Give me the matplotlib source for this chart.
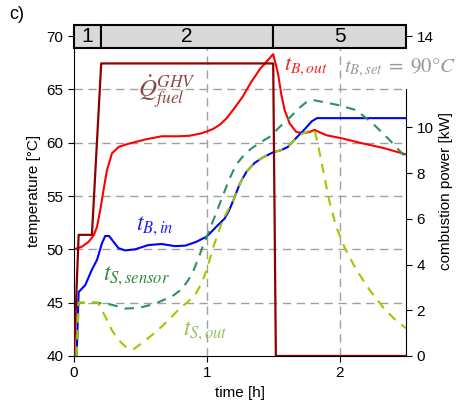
import matplotlib
matplotlib.use('Agg')
import matplotlib.pyplot as plt
from matplotlib.patches import Rectangle

plt.rcParams['font.family'] = ['Liberation Sans', 'DejaVu Sans']
plt.rcParams['mathtext.fontset'] = 'stix'

# combustion power [kW]
t_power = [0.0, 0.035, 0.135, 0.205, 1.5, 1.52, 2.5]
power = [0.0, 5.3, 5.3, 12.8, 12.8, 0.0, 0.0]

# boiler outlet temperature
t_bout = [0.0, 0.06, 0.11, 0.148, 0.173, 0.198, 0.223, 0.248, 0.286, 0.336, 0.41, 0.536,
          0.66, 0.79, 0.87, 0.95, 1.0, 1.05, 1.10, 1.15, 1.20, 1.27, 1.33, 1.40, 1.45,
          1.50, 1.536, 1.56, 1.586, 1.624, 1.674, 1.724, 1.774, 1.81, 1.90, 2.02, 2.15,
          2.33, 2.5]
T_bout = [50.0, 50.25, 50.7, 51.3, 52.1, 53.7, 55.6, 57.4, 59.0, 59.6, 59.9, 60.3,
          60.6, 60.6, 60.65, 60.85, 61.05, 61.3, 61.7, 62.3, 63.1, 64.3, 65.6, 66.9, 67.6,
          68.3, 66.5, 64.6, 63.05, 61.8, 61.0, 60.9, 61.0, 61.2, 60.7, 60.4, 60.0,
          59.5, 58.9]

# boiler inlet temperature
t_bin = [0.02, 0.035, 0.085, 0.135, 0.173, 0.21, 0.235, 0.265, 0.298, 0.336, 0.386, 0.46,
         0.56, 0.66, 0.76, 0.84, 0.92, 1.0, 1.07, 1.135, 1.17, 1.2, 1.25, 1.30, 1.36,
         1.42, 1.50, 1.56, 1.61, 1.67, 1.74, 1.79, 1.83, 2.5]
T_bin = [40.0, 46.0, 46.65, 48.1, 49.0, 50.55, 51.25, 51.25, 50.7, 50.1, 49.9, 50.0,
         50.4, 50.5, 50.3, 50.35, 50.7, 51.2, 52.1, 52.9, 53.7, 54.6, 56.2, 57.3, 58.1,
         58.6, 59.1, 59.3, 59.6, 60.4, 61.3, 62.0, 62.3, 62.3]

# storage sensor temperature
t_ssens = [0.02, 0.035, 0.173, 0.286, 0.386, 0.486, 0.61, 0.74, 0.81, 0.86, 0.9, 0.97,
           1.05, 1.12, 1.17, 1.22, 1.27, 1.33, 1.40, 1.48, 1.55, 1.62, 1.70, 1.75, 1.8,
           1.9, 2.0, 2.125, 2.25, 2.376, 2.5]
T_ssens = [40.0, 45.0, 45.0, 44.8, 44.45, 44.5, 44.9, 45.6, 46.25, 47.1, 48.0, 50.25,
           52.75, 55.0, 56.6, 57.9, 58.7, 59.4, 60.0, 60.6, 61.5, 62.3, 63.3, 63.8, 64.0,
           63.75, 63.5, 63.05, 61.8, 60.25, 58.6]

# storage outlet temperature
t_sout = [0.02, 0.035, 0.18, 0.235, 0.286, 0.336, 0.398, 0.45, 0.51, 0.586, 0.66, 0.737,
          0.8, 0.86, 0.92, 0.96, 1.0, 1.05, 1.12, 1.2, 1.25, 1.30, 1.36, 1.42, 1.50, 1.56,
          1.61, 1.67, 1.72, 1.77, 1.81, 1.836, 1.86, 1.89, 1.925, 1.975, 2.04, 2.125,
          2.226, 2.325, 2.41, 2.5]
T_sout = [40.0, 45.0, 45.0, 43.7, 42.4, 41.5, 40.75, 40.65, 41.2, 41.95, 42.75, 43.7,
          44.5, 45.1, 45.9, 46.8, 48.1, 50.25, 52.75, 54.6, 56.2, 57.3, 58.1, 58.6, 59.1,
          59.3, 59.6, 60.4, 60.85, 61.1, 61.25, 59.9, 58.4, 56.5, 54.4, 52.1, 50.1, 48.1,
          46.2, 44.6, 43.5, 42.6]

# phases shown in the top band
phase_edges = [0.0, 0.2, 1.5, 2.5]
phase_labels = ['1', '2', '5']

fig = plt.figure(figsize=(4.61, 4.2), dpi=100)
ax = fig.add_axes([0.1605, 0.1524, 0.7202, 0.788])
ymax = 71.03
ax.set_xlim(0, 2.5)
ax.set_ylim(40, ymax)
ax2 = ax.twinx()
ax2.set_ylim(0, (ymax - 40) * 14 / 30)

grid_kw = dict(color='#a0a0a0', lw=1.0, dashes=(6, 4), zorder=0.5)
for y in [45, 50, 55, 60, 65]:
    ax.axhline(y, **grid_kw)
for x in [1, 2]:
    ax.axvline(x, **grid_kw)

dash = (4.5, 3.5)
ax.plot(t_bout, T_bout, color='#ff0000', lw=1.5)
ax.plot(t_bin, T_bin, color='#0000ff', lw=1.5)
ax.plot(t_ssens, T_ssens, color='#2e9060', lw=1.5, dashes=dash)
ax.plot(t_sout, T_sout, color='#99cc00', lw=1.5, dashes=dash)
ax2.plot(t_power, power, color='#8b0000', lw=1.6)

for i, lab in enumerate(phase_labels):
    x0, x1 = phase_edges[i], phase_edges[i + 1]
    ax.add_patch(Rectangle((x0, 68.87), x1 - x0, ymax - 68.87, facecolor='#d9d9d9',
                           edgecolor='black', lw=1.5, zorder=5, clip_on=False))
    ax.text((x0 + x1) / 2, 69.95, lab, ha='center', va='center', fontsize=15, zorder=6)

ax.text(0.70, 64.75, r'$\dot{Q}_{fuel}^{GHV}$', color='#8b4a4a', fontsize=18,
        ha='center', va='center')
ax.text(1.585, 67.2, r'$t_{B,out}$', color='#ff2020', fontsize=16, ha='left', va='center')
ax.text(2.035, 67.0, r'$t_{B,set}\;=\;90°C$', color='#999999', fontsize=15, ha='left',
        va='center', clip_on=False)
ax.text(0.47, 52.2, r'$t_{B,in}$', color='#2020ff', fontsize=17, ha='left', va='center')
ax.text(0.22, 47.5, r'$t_{S,sensor}$', color='#2f8a3a', fontsize=17, ha='left', va='center')
ax.text(0.82, 42.35, r'$t_{S,out}$', color='#9cc05a', fontsize=17, ha='left', va='center')

ax.set_yticks([40, 45, 50, 55, 60, 65, 70])
ax.set_xticks([0, 1, 2])
ax2.set_yticks([0, 2, 4, 6, 8, 10, 14])
for a in (ax, ax2):
    a.tick_params(direction='out', length=4, labelsize=11)
    a.spines['top'].set_visible(False)
ax.spines['right'].set_visible(False)
ax2.spines['left'].set_visible(False)
ax2.spines['bottom'].set_visible(False)
ax2.spines['right'].set_bounds(0, 11.7)

ax.set_xlabel('time [h]', fontsize=11)
ax.set_ylabel('temperature [°C]', fontsize=11)
ax2.set_ylabel('combustion power [kW]', fontsize=11)
fig.text(0.02, 0.985, 'c)', fontsize=13, va='top')

fig.savefig('out.png', dpi=100)
